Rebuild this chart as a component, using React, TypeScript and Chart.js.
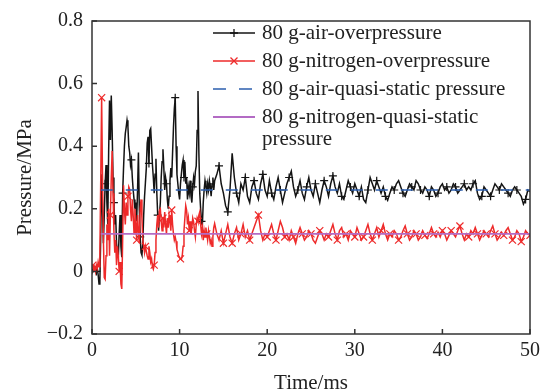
import React, { useEffect, useRef } from "react";
import { Chart, registerables } from "chart.js";

Chart.register(...registerables);

// ---- sampling grid (ms) ----
const EARLY_START = 0;
const EARLY_STEP = 0.1;
const LATE_START = 14.25;
const LATE_STEP = 0.25;

// ---- 80 g air overpressure (MPa), 0–14 ms every 0.1 ms ----
const airEarly = [
  0.010, 0.005, 0.015, 0.008, 0.012, 0.000, 0.010, -0.010, -0.040, -0.030,
  0.120, 0.310, 0.200, 0.090, 0.180, 0.280, 0.340, 0.220, 0.150, 0.380,
  0.546, 0.420, 0.562, 0.450, 0.300, 0.220, 0.150, 0.180, 0.090, 0.060,
  0.043, 0.120, 0.180, 0.080, 0.045, 0.250, 0.330, 0.400, 0.440, 0.460,
  0.483, 0.463, 0.400, 0.380, 0.340, 0.356, 0.300, 0.260, 0.230, 0.200,
  0.220, 0.160, 0.260, 0.380, 0.200, 0.110, 0.060, 0.052, 0.090, 0.180,
  0.240, 0.285, 0.330, 0.410, 0.430, 0.345, 0.450, 0.456, 0.400, 0.340,
  0.300, 0.250, 0.310, 0.360, 0.250, 0.180, 0.130, 0.180, 0.220, 0.300,
  0.350, 0.390, 0.330, 0.260, 0.300, 0.280, 0.230, 0.200, 0.240, 0.290,
  0.330, 0.300, 0.380, 0.460, 0.520, 0.555, 0.400, 0.310, 0.280, 0.250,
  0.230, 0.280, 0.310, 0.340, 0.356, 0.300, 0.350, 0.280, 0.300, 0.230,
  0.270, 0.250, 0.290, 0.240, 0.220, 0.270, 0.300, 0.280, 0.320, 0.337,
  0.450, 0.576, 0.380, 0.250, 0.200, 0.160, 0.150, 0.220, 0.260, 0.290,
  0.270, 0.250, 0.280, 0.260, 0.290, 0.270, 0.240, 0.280, 0.300, 0.260,
  0.290,
];

// ---- 80 g air overpressure (MPa), 14.25–50 ms every 0.25 ms ----
const airLate = [
  0.310, 0.337, 0.280, 0.250, 0.210, 0.190, 0.260, 0.377, 0.300, 0.250,
  0.220, 0.280, 0.260, 0.300, 0.240, 0.220, 0.270, 0.290, 0.250, 0.230,
  0.280, 0.310, 0.260, 0.240, 0.290, 0.250, 0.230, 0.270, 0.300, 0.260,
  0.220, 0.250, 0.280, 0.300, 0.320, 0.270, 0.240, 0.260, 0.290, 0.250,
  0.230, 0.270, 0.300, 0.260, 0.240, 0.280, 0.250, 0.220, 0.260, 0.290,
  0.270, 0.240, 0.280, 0.305, 0.270, 0.250, 0.280, 0.240, 0.230, 0.260,
  0.290, 0.270, 0.250, 0.280, 0.260, 0.240, 0.270, 0.230, 0.220, 0.260,
  0.300, 0.280, 0.260, 0.290, 0.270, 0.250, 0.270, 0.240, 0.227, 0.250,
  0.270, 0.260, 0.280, 0.290, 0.270, 0.250, 0.240, 0.260, 0.280, 0.270,
  0.260, 0.290, 0.280, 0.260, 0.250, 0.270, 0.260, 0.240, 0.270, 0.260,
  0.240, 0.250, 0.270, 0.280, 0.260, 0.270, 0.250, 0.260, 0.280, 0.270,
  0.250, 0.260, 0.270, 0.280, 0.260, 0.270, 0.260, 0.280, 0.290, 0.250,
  0.230, 0.240, 0.270, 0.260, 0.250, 0.240, 0.260, 0.280, 0.270, 0.260,
  0.280, 0.270, 0.260, 0.250, 0.240, 0.260, 0.270, 0.260, 0.250, 0.240,
  0.215, 0.230, 0.260, 0.255,
];

// ---- 80 g nitrogen overpressure (MPa), 0–14 ms every 0.1 ms ----
const n2Early = [
  0.010, 0.020, 0.005, 0.015, 0.000, 0.020, 0.010, 0.030, 0.015, 0.060,
  0.300, 0.555, 0.300, 0.100, -0.020, -0.025, 0.050, 0.150, 0.100, 0.200,
  0.050, 0.180, 0.300, 0.385, 0.250, 0.130, 0.060, 0.100, 0.020, 0.080,
  0.050, 0.000, 0.030, -0.040, -0.056, 0.100, 0.275, 0.200, 0.150, 0.220,
  0.180, 0.240, 0.270, 0.262, 0.200, 0.160, 0.230, 0.180, 0.120, 0.200,
  0.150, 0.100, 0.180, 0.130, 0.090, 0.200, 0.230, 0.170, 0.100, 0.080,
  0.060, 0.080, 0.064, 0.050, 0.040, 0.080, 0.060, 0.030, 0.040, 0.015,
  0.007, 0.020, 0.060, 0.100, 0.150, 0.180, 0.140, 0.196, 0.200, 0.160,
  0.130, 0.170, 0.140, 0.190, 0.150, 0.120, 0.170, 0.140, 0.180, 0.160,
  0.130, 0.196, 0.150, 0.120, 0.100, 0.110, 0.096, 0.070, 0.060, 0.050,
  0.045, 0.040, 0.038, 0.050, 0.080, 0.130, 0.170, 0.210, 0.196, 0.150,
  0.170, 0.130, 0.160, 0.120, 0.140, 0.170, 0.158, 0.130, 0.110, 0.150,
  0.170, 0.160, 0.180, 0.190, 0.150, 0.120, 0.140, 0.100, 0.130, 0.110,
  0.140, 0.120, 0.100, 0.130, 0.110, 0.090, 0.100, 0.080, 0.110, 0.140,
  0.153,
];

// ---- 80 g nitrogen overpressure (MPa), 14.25–50 ms every 0.25 ms ----
const n2Late = [
  0.120, 0.100, 0.130, 0.090, 0.120, 0.150, 0.110, 0.090, 0.120, 0.140,
  0.100, 0.120, 0.150, 0.110, 0.130, 0.100, 0.120, 0.140, 0.160, 0.180,
  0.130, 0.100, 0.120, 0.110, 0.130, 0.150, 0.120, 0.100, 0.130, 0.160,
  0.140, 0.110, 0.120, 0.100, 0.130, 0.110, 0.090, 0.120, 0.140, 0.120,
  0.100, 0.110, 0.130, 0.120, 0.100, 0.090, 0.110, 0.130, 0.120, 0.100,
  0.120, 0.110, 0.130, 0.150, 0.120, 0.100, 0.130, 0.140, 0.110, 0.120,
  0.100, 0.130, 0.120, 0.110, 0.140, 0.120, 0.100, 0.110, 0.130, 0.150,
  0.120, 0.100, 0.120, 0.140, 0.110, 0.130, 0.150, 0.120, 0.100, 0.120,
  0.110, 0.130, 0.120, 0.100, 0.110, 0.130, 0.145, 0.120, 0.100, 0.110,
  0.130, 0.120, 0.100, 0.110, 0.130, 0.115, 0.105, 0.120, 0.140, 0.120,
  0.110, 0.125, 0.110, 0.130, 0.120, 0.100, 0.115, 0.130, 0.120, 0.110,
  0.130, 0.145, 0.120, 0.100, 0.120, 0.110, 0.130, 0.120, 0.140, 0.120,
  0.100, 0.115, 0.130, 0.120, 0.110, 0.130, 0.145, 0.120, 0.100, 0.110,
  0.125, 0.115, 0.130, 0.140, 0.120, 0.100, 0.110, 0.130, 0.120, 0.095,
  0.110, 0.130, 0.120, 0.115,
];

// ---- quasi-static pressures (MPa) ----
const airQuasi = 0.26;
const n2Quasi = 0.12;
const quasiTimes = [1, 50];

// ---- axes ----
const xTicks = [0, 10, 20, 30, 40, 50];
const yTicks = [-0.2, 0, 0.2, 0.4, 0.6, 0.8];
const xTitle = "Time/ms";
const yTitle = "Pressure/MPa";

const legendLabels = [
  ["80 g-air-overpressure"],
  ["80 g-nitrogen-overpressure"],
  ["80 g-air-quasi-static pressure"],
  ["80 g-nitrogen-quasi-static", "pressure"],
];

const FONT = '"Liberation Serif", "Times New Roman", serif';
const C_AIR = "#141414";
const C_N2 = "#ee2a2a";
const C_AIRQ = "#2d5fae";
const C_N2Q = "#b36bc4";

function toPoints(early: number[], late: number[]) {
  const a = early.map((y, i) => ({ x: +(EARLY_START + i * EARLY_STEP).toFixed(3), y }));
  const b = late.map((y, i) => ({ x: +(LATE_START + i * LATE_STEP).toFixed(3), y }));
  return a.concat(b);
}

function markerRadius(nEarly: number, offE: number, offL: number, r: number) {
  return (ctx: any) => {
    const i = ctx.dataIndex;
    if (i < nEarly) return i % 10 === offE ? r : 0;
    return (i - nEarly) % 4 === offL ? r : 0;
  };
}

const framePlugin = {
  id: "frame",
  afterDraw(chart: any) {
    const { ctx, chartArea } = chart;
    const { left, right, top, bottom } = chartArea;
    const xs = chart.scales.x;
    const ys = chart.scales.y;
    ctx.save();
    ctx.strokeStyle = "#333";
    ctx.lineWidth = 1.5;
    ctx.strokeRect(left, top, right - left, bottom - top);
    ctx.beginPath();
    yTicks.forEach((v) => {
      const y = ys.getPixelForValue(v);
      ctx.moveTo(left, y);
      ctx.lineTo(left + 5, y);
    });
    xTicks.forEach((v) => {
      const x = xs.getPixelForValue(v);
      ctx.moveTo(x, bottom);
      ctx.lineTo(x, bottom - 5);
    });
    ctx.stroke();

    // axis titles
    ctx.fillStyle = "#222";
    ctx.font = `21px ${FONT}`;
    ctx.textAlign = "center";
    ctx.textBaseline = "alphabetic";
    ctx.fillText(xTitle, (left + right) / 2, 389);
    ctx.save();
    ctx.translate(31, (top + bottom) / 2);
    ctx.rotate(-Math.PI / 2);
    ctx.fillText(yTitle, 0, 0);
    ctx.restore();

    // legend
    const lx0 = 213;
    const lx1 = 255;
    const tx = 262;
    const rows = [33, 61, 89, 117];
    ctx.font = `21px ${FONT}`;
    ctx.textAlign = "left";
    ctx.textBaseline = "middle";
    legendLabels.forEach((lines, k) => {
      const y = rows[k];
      ctx.save();
      ctx.lineWidth = 1.5;
      if (k === 0) ctx.strokeStyle = C_AIR;
      if (k === 1) ctx.strokeStyle = C_N2;
      if (k === 2) {
        ctx.strokeStyle = C_AIRQ;
        ctx.setLineDash([13, 13]);
      }
      if (k === 3) {
        ctx.strokeStyle = C_N2Q;
        ctx.lineWidth = 2;
      }
      ctx.beginPath();
      ctx.moveTo(lx0, y);
      ctx.lineTo(lx1, y);
      ctx.stroke();
      ctx.setLineDash([]);
      const mx = (lx0 + lx1) / 2;
      ctx.beginPath();
      if (k === 0) {
        ctx.lineWidth = 1.3;
        ctx.moveTo(mx - 4, y);
        ctx.lineTo(mx + 4, y);
        ctx.moveTo(mx, y - 4);
        ctx.lineTo(mx, y + 4);
      }
      if (k === 1) {
        ctx.lineWidth = 1.3;
        ctx.moveTo(mx - 3.5, y - 3.5);
        ctx.lineTo(mx + 3.5, y + 3.5);
        ctx.moveTo(mx - 3.5, y + 3.5);
        ctx.lineTo(mx + 3.5, y - 3.5);
      }
      ctx.stroke();
      ctx.restore();
      ctx.fillStyle = "#222";
      lines.forEach((t, j) => ctx.fillText(t, tx, y + j * 22));
    });
    ctx.restore();
  },
};

export default function App() {
  const ref = useRef<HTMLCanvasElement>(null);
  useEffect(() => {
    if (!ref.current) return;
    const nE = airEarly.length;
    const chart = new Chart(ref.current, {
      type: "line",
      data: {
        datasets: [
          {
            label: legendLabels[0].join(" "),
            data: toPoints(airEarly, airLate),
            borderColor: C_AIR,
            backgroundColor: C_AIR,
            borderWidth: 1.5,
            pointStyle: "cross",
            pointRadius: markerRadius(nE, 5, 1, 4),
            pointBorderWidth: 1.2,
            pointBorderColor: C_AIR,
            tension: 0,
            order: 4,
          },
          {
            label: legendLabels[1].join(" "),
            data: toPoints(n2Early, n2Late),
            borderColor: C_N2,
            backgroundColor: C_N2,
            borderWidth: 1.5,
            pointStyle: "crossRot",
            pointRadius: markerRadius(nE, 1, 3, 5),
            pointBorderWidth: 1.2,
            pointBorderColor: C_N2,
            tension: 0,
            order: 3,
          },
          {
            label: legendLabels[2].join(" "),
            data: quasiTimes.map((x) => ({ x, y: airQuasi })),
            borderColor: C_AIRQ,
            borderWidth: 1.5,
            borderDash: [12, 13],
            pointRadius: 0,
            order: 2,
          },
          {
            label: legendLabels[3].join(" "),
            data: quasiTimes.map((x) => ({ x, y: n2Quasi })),
            borderColor: C_N2Q,
            borderWidth: 1.8,
            pointRadius: 0,
            order: 1,
          },
        ],
      },
      options: {
        animation: false,
        responsive: true,
        maintainAspectRatio: false,
        layout: { autoPadding: false, padding: { left: 0, right: 15, top: 16, bottom: 0 } },
        plugins: { legend: { display: false }, tooltip: { enabled: false } },
        scales: {
          x: {
            type: "linear",
            min: 0,
            max: 50,
            afterFit: (s: any) => {
              s.height = 58;
            },
            afterBuildTicks: (s: any) => {
              s.ticks = xTicks.map((v) => ({ value: v }));
            },
            grid: { display: false, drawTicks: false },
            border: { display: false },
            ticks: {
              color: "#222",
              font: { family: FONT, size: 20 },
              padding: 5,
              maxRotation: 0,
              callback: (v: any) => String(v),
            },
          },
          y: {
            type: "linear",
            min: -0.2,
            max: 0.8,
            afterFit: (s: any) => {
              s.width = 92;
            },
            afterBuildTicks: (s: any) => {
              s.ticks = yTicks.map((v) => ({ value: v }));
            },
            grid: { display: false, drawTicks: false },
            border: { display: false },
            ticks: {
              color: "#222",
              font: { family: FONT, size: 20 },
              padding: 9,
              callback: (v: any) => {
                const n = Math.round(Number(v) * 10) / 10;
                return n === 0 ? "0" : String(n).replace("-", "\u2212");
              },
            },
          },
        },
      },
      plugins: [framePlugin],
    });
    return () => chart.destroy();
  }, []);
  return (
    <div style={{ position: "fixed", left: 0, top: 0, width: 545, height: 392, background: "#fff" }}>
      <canvas ref={ref} />
    </div>
  );
}
